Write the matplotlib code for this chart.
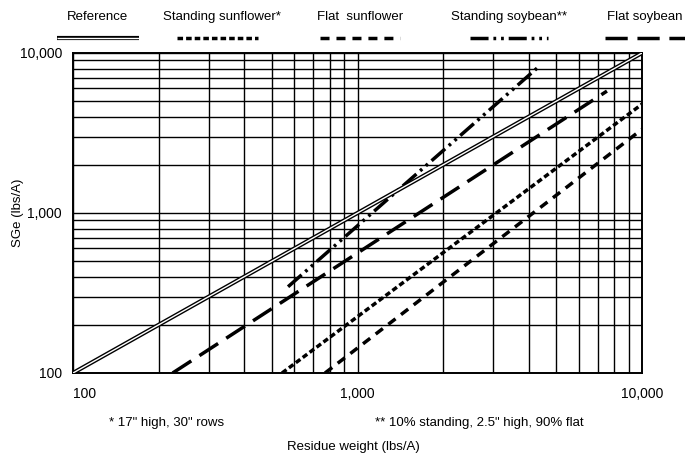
import matplotlib
matplotlib.use("Agg")
import matplotlib.pyplot as plt
from matplotlib.lines import Line2D
from matplotlib.ticker import FixedLocator, FuncFormatter, LogLocator, NullFormatter

plt.rcParams["font.family"] = ["Liberation Sans", "DejaVu Sans"]
plt.rcParams["lines.scale_dashes"] = False

# endpoints (residue weight, SGe), lbs/A
ref_x = [100, 10000]
ref_y = [100, 10000]
ssun_x = [543, 10000]      # standing sunflower
ssun_y = [100, 4790]
fsun_x = [769, 10000]      # flat sunflower
fsun_y = [100, 3335]
ssoy_x = [570, 4280]       # standing soybean
ssoy_y = [346, 8050]
fsoy_x = [224, 7530]       # flat soybean
fsoy_y = [100, 5780]

x_ticks = [100, 1000, 10000]
y_ticks = [100, 1000, 10000]

labels = ["Reference", "Standing sunflower*", "Flat  sunflower",
          "Standing soybean**", "Flat soybean"]

LW = 2.5
STY = {
    "ssun": dict(dashes=(4.0, 2.2)),
    "fsun": dict(dashes=(6.5, 5.0)),
    "ssoy": dict(dashes=(13, 3.5, 2, 3.5, 2, 3.5)),
    "fsoy": dict(dashes=(16, 7)),
}

W, H = 685, 454
fig = plt.figure(figsize=(W / 100, H / 100), dpi=100)
ax = fig.add_axes([73 / W, 1 - 373 / H, (642 - 73) / W, (373 - 53) / H])
ax.set_xscale("log")
ax.set_yscale("log")
ax.set_xlim(100, 10000)
ax.set_ylim(100, 10000)

for axis, ticks in ((ax.xaxis, x_ticks), (ax.yaxis, y_ticks)):
    axis.set_major_locator(FixedLocator(ticks))
    axis.set_minor_locator(LogLocator(base=10, subs=range(2, 10)))
    axis.set_minor_formatter(NullFormatter())
    axis.set_major_formatter(FuncFormatter(lambda v, p: f"{int(v):,}"))
ax.tick_params(which="both", length=0, labelsize=10)
ax.tick_params(axis="y", pad=8)
ax.tick_params(axis="x", pad=10)
ax.set_axisbelow(True)
ax.grid(which="both", color="black", lw=1.0)
for s in ax.spines.values():
    s.set_linewidth(1.4)

xl = ax.get_xticklabels()
xl[0].set_ha("left")

# reference: double line
ax.plot(ref_x, ref_y, color="black", lw=3.0, solid_capstyle="butt", zorder=3)
ax.plot(ref_x, ref_y, color="white", lw=1.0, solid_capstyle="butt", zorder=4)
ax.plot(ssun_x, ssun_y, color="black", lw=LW, zorder=3, **STY["ssun"])
ax.plot(fsun_x, fsun_y, color="black", lw=LW, zorder=3, **STY["fsun"])
ax.plot(ssoy_x, ssoy_y, color="black", lw=LW, zorder=3, **STY["ssoy"])
ax.plot(fsoy_x, fsoy_y, color="black", lw=LW, zorder=3, **STY["fsoy"])

# legend row across the top
leg_txt_x = [97, 222, 360, 509, 645]
leg_line = [(57, 139), (177, 258), (320, 400), (470, 548), (605, 690)]
keys = [None, "ssun", "fsun", "ssoy", "fsoy"]
for lab, tx, (x0, x1), k in zip(labels, leg_txt_x, leg_line, keys):
    fig.text(tx / W, 1 - 17 / H, lab, ha="center", va="center", fontsize=9.5)
    yy = 1 - 38 / H
    if k is None:
        fig.add_artist(Line2D([x0 / W, x1 / W], [yy, yy], color="black", lw=3.0,
                              solid_capstyle="butt"))
        fig.add_artist(Line2D([x0 / W, x1 / W], [yy, yy], color="white", lw=1.0,
                              solid_capstyle="butt"))
    else:
        fig.add_artist(Line2D([x0 / W, x1 / W], [yy, yy], color="black", lw=LW,
                              **STY[k]))

fig.text(18 / W, 1 - 213 / H, "SGe (lbs/A)", rotation=90, ha="center",
         va="center", fontsize=9.5)
fig.text(109 / W, 1 - 423 / H, '* 17" high, 30" rows', ha="left", va="center",
         fontsize=9.5)
fig.text(375 / W, 1 - 423 / H, '** 10% standing, 2.5" high, 90% flat',
         ha="left", va="center", fontsize=9.5)
fig.text(353 / W, 1 - 447 / H, "Residue weight (lbs/A)", ha="center",
         va="center", fontsize=9.5)

fig.savefig("out.png", dpi=100)
